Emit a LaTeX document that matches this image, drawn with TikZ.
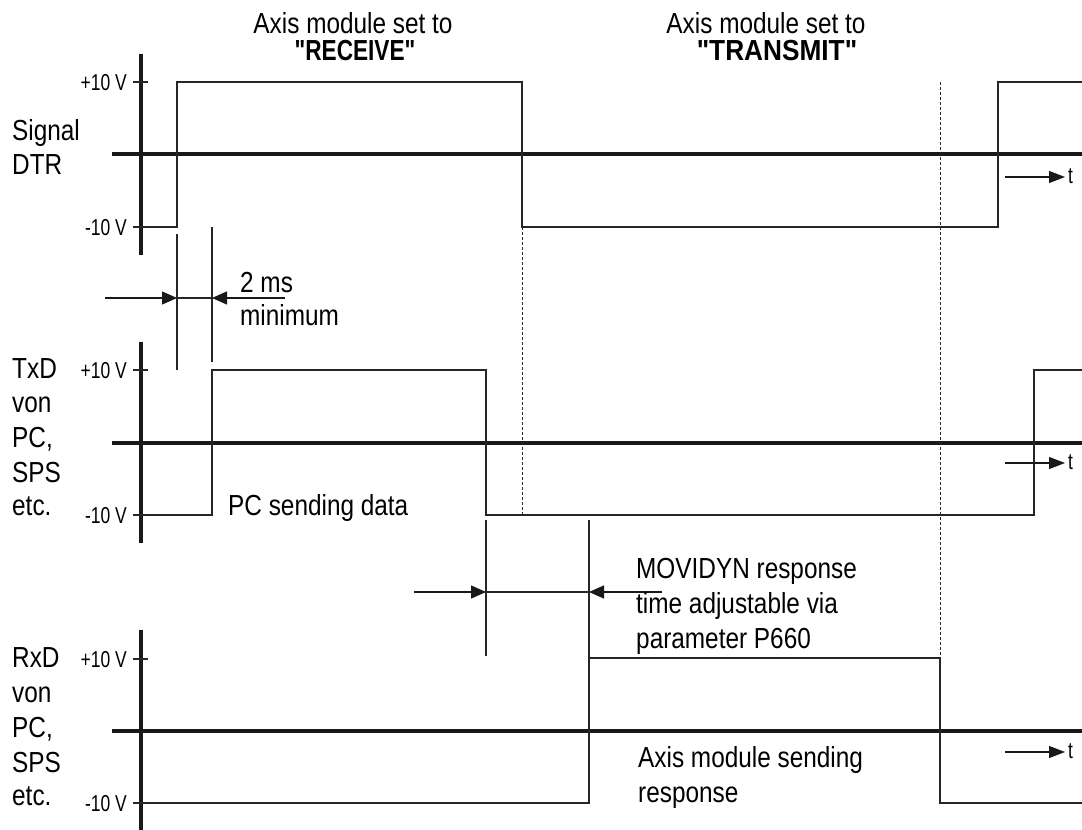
\documentclass[tikz,border=0pt]{standalone}
\usepackage{fontspec}
\setmainfont[FakeStretch=0.84]{Liberation Sans}
\newfontfamily\bcond[FakeStretch=0.78]{Liberation Sans}
\newfontfamily\scond[FakeStretch=0.76]{Liberation Sans}
\usetikzlibrary{arrows.meta}
\begin{document}
\begin{tikzpicture}[x=1pt,y=-1pt,
  txt/.style={inner sep=0pt,anchor=base west,font=\fontsize{29}{35}\selectfont},
  hdr/.style={inner sep=0pt,anchor=base,font=\fontsize{29}{35}\selectfont},
  hdrb/.style={inner sep=0pt,anchor=base,font=\bcond\bfseries\fontsize{29}{35}\selectfont},
  volt/.style={inner sep=0pt,anchor=east,font=\scond\fontsize{23}{25}\selectfont},
  tlab/.style={inner sep=0pt,anchor=west,font=\scond\fontsize{23}{25}\selectfont},
  axis/.style={line width=4pt,black!90},
  sig/.style={line width=1.5pt,black!85},
  tick/.style={line width=1.2pt,black!85},
  guide/.style={line width=1.2pt,black!85},
  dotl/.style={line width=1pt,black!85,dash pattern=on 3pt off 2pt},
  dim/.style={line width=1.2pt,black!90,-{Triangle[length=15pt,width=13pt]}},
  tarr/.style={line width=1.2pt,black!90,-{Triangle[length=16pt,width=12pt]}}]
\useasboundingbox (0,0) rectangle (1082,830);

% headers
\node[hdr] (h1a) at (353,33) {Axis module set to};
\node[hdrb] (h1b) at (355,60) {"RECEIVE"};
\node[hdr] (h2a) at (766,33) {Axis module set to};
\node[hdrb] (h2b) at (777,60) {\scalebox{1.16}[1]{"TRANSMIT"}};

% left labels
\node[txt] (l1a) at (12,140) {Signal};
\node[txt] (l1b) at (12,174) {DTR};
\node[txt] (l2a) at (12,378) {TxD};
\node[txt] (l2b) at (12,412) {von};
\node[txt] (l2c) at (12,447) {PC,};
\node[txt] (l2d) at (12,482) {SPS};
\node[txt] (l2e) at (12,515) {etc.};
\node[txt] (l3a) at (12,667) {RxD};
\node[txt] (l3b) at (12,702) {von};
\node[txt] (l3c) at (12,737) {PC,};
\node[txt] (l3d) at (12,772) {SPS};
\node[txt] (l3e) at (12,805) {etc.};

% voltage labels
\node[volt] (v1p) at (127,82.5) {+10 V};
\node[volt] (v1m) at (127,227.5) {-10 V};
\node[volt] (v2p) at (127,370.5) {+10 V};
\node[volt] (v2m) at (127,515.5) {-10 V};
\node[volt] (v3p) at (127,659.5) {+10 V};
\node[volt] (v3m) at (127,803.5) {-10 V};

% axes
\draw[axis] (141,54) -- (141,255);
\draw[axis] (112,154) -- (1082,154);
\draw[axis] (141,342) -- (141,543);
\draw[axis] (112,443) -- (1082,443);
\draw[axis] (141,630) -- (141,830);
\draw[axis] (112,731) -- (1082,731);

% ticks
\foreach \y in {82,227,370,515,659,803} \draw[tick] (133,\y) -- (148,\y);

% signals
\draw[sig] (141,227) -- (177,227) -- (177,82) -- (522,82) -- (522,227) -- (998,227) -- (998,82) -- (1082,82);
\draw[sig] (141,515) -- (212,515) -- (212,370) -- (486,370) -- (486,515) -- (1034,515) -- (1034,370) -- (1082,370);
\draw[sig] (141,803) -- (589,803) -- (589,658) -- (940,658) -- (940,803) -- (1082,803);

% dotted guides
\draw[dotl] (522,227) -- (522,515);
\draw[dotl] (940,82) -- (940,658);

% 2 ms dimension
\coordinate (a1) at (177,298);
\coordinate (a2) at (212,298);
\coordinate (a1s) at (105,298);
\coordinate (a2s) at (285,298);
\draw[guide] (177,234) -- (177,370);
\draw[guide] (212,227) -- (212,362);
\draw[guide] (a1) -- (a2);
\draw[dim] (a1s) -- (a1);
\draw[dim] (a2s) -- (a2);
\node[txt] (ms1) at (240,292) {2 ms};
\node[txt] (ms2) at (240,325) {minimum};

\node[txt] (pcs) at (228,515) {PC sending data};

% response time dimension
\coordinate (b1) at (486,592);
\coordinate (b2) at (589,592);
\coordinate (b1s) at (414,592);
\coordinate (b2s) at (662,592);
\draw[guide] (486,520) -- (486,656);
\draw[guide] (589,520) -- (589,658);
\draw[guide] (b1) -- (b2);
\draw[dim] (b1s) -- (b1);
\draw[dim] (b2s) -- (b2);
\node[txt] (mv1) at (636,578) {MOVIDYN response};
\node[txt] (mv2) at (636,613) {time adjustable via};
\node[txt] (mv3) at (636,648) {parameter P660};

\node[txt] (am1) at (638,767) {Axis module sending};
\node[txt] (am2) at (638,802) {response};

% time arrows
\coordinate (t1s) at (1005,177); \coordinate (t1e) at (1065,177);
\coordinate (t2s) at (1005,463); \coordinate (t2e) at (1065,463);
\coordinate (t3s) at (1005,752); \coordinate (t3e) at (1065,752);
\draw[tarr] (t1s) -- (t1e);
\draw[tarr] (t2s) -- (t2e);
\draw[tarr] (t3s) -- (t3e);
\node[tlab] (t1) at (1068,176) {t};
\node[tlab] (t2) at (1068,462) {t};
\node[tlab] (t3) at (1068,751) {t};
\end{tikzpicture}
\end{document}
